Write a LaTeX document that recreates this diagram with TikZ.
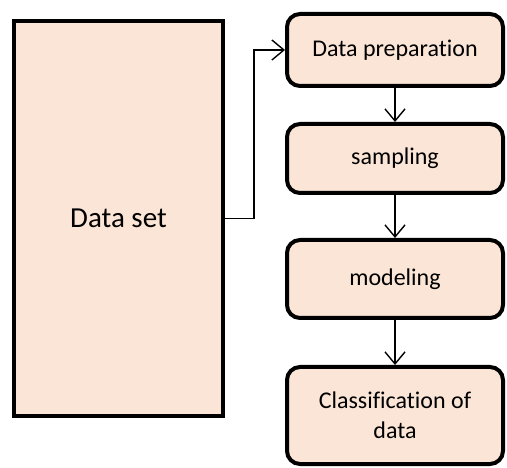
\documentclass[tikz,border=0pt]{standalone}
\usepackage{fontspec}
\setmainfont{Carlito}[Ligatures=NoCommon]
\usepackage{tikz}
\usetikzlibrary{arrows.meta, positioning}
\definecolor{peach}{HTML}{FBE5D6}

\begin{document}
\begin{tikzpicture}[
      x=1pt, y=1pt,
      node distance=34pt,
      step box/.style={rectangle, rounded corners=13pt, draw, line width=4pt, fill=peach,
                  minimum width=216pt, align=center, font=\fontsize{24}{30}\selectfont},
      data box/.style={rectangle, draw, line width=4pt, fill=peach,
                  minimum width=209pt, minimum height=395pt, font=\fontsize{29}{34}\selectfont},
      arr/.style={-{Straight Barb[length=12pt, width=20pt]}, line width=1.4pt}
    ]
      \useasboundingbox (0,0) rectangle (507,-468);
      \node[data box] (dataset) at (118.5,-218.5) {Data set};
      \node[step box, minimum height=72pt] (prep) at (395,-50) {Data preparation};
      \node[step box, minimum height=69pt, below=34pt of prep] (samp) {sampling};
      \node[step box, minimum height=78pt, below=43pt of samp] (model) {modeling};
      \node[step box, minimum height=97pt, below=45pt of model] (classif) {Classification of\\data};
      \draw[arr] (dataset.east) -- ++(29pt,0) |- (prep.west);
      \draw[arr] (prep) -- (samp);
      \draw[arr] (samp) -- (model);
      \draw[arr] (model) -- (classif);
    \end{tikzpicture}
\end{document}
